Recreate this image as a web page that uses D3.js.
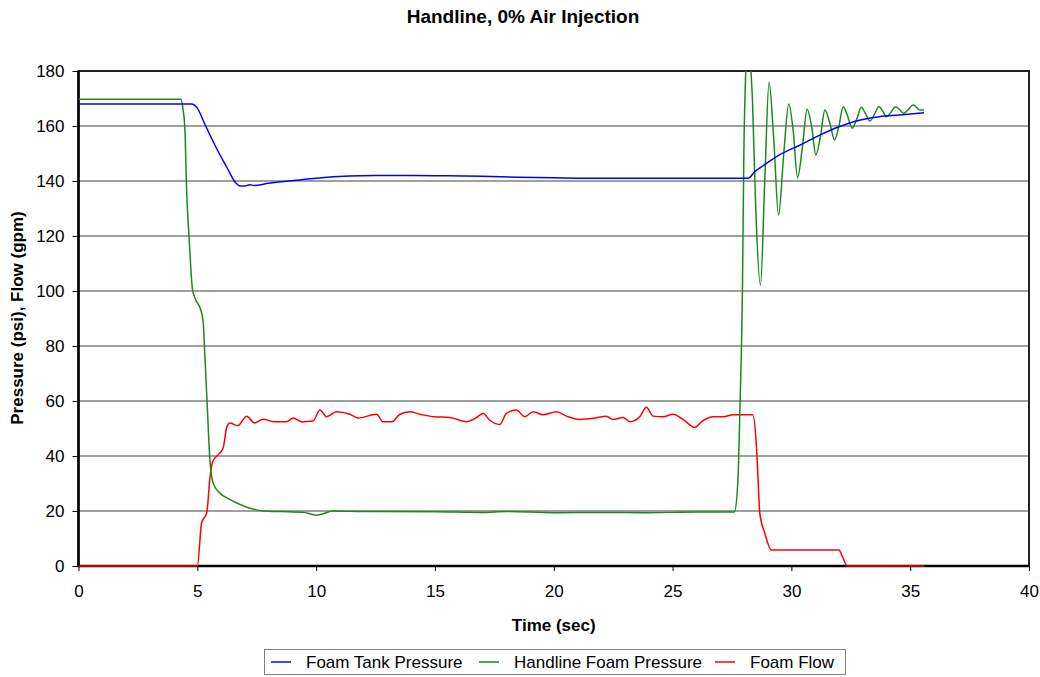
<!DOCTYPE html>
<html>
<head>
<meta charset="utf-8">
<script src="https://cdn.jsdelivr.net/npm/d3@7/dist/d3.min.js"></script>
<style>
	body { margin: 0; background: #fff; }
	text { font-family: 'Liberation Sans', Arial, sans-serif; fill: #000; }
	.grid line { stroke: #808080; stroke-width: 1.5; }
	.series { fill: none; stroke-width: 1.5; }
</style>
</head>
<body>
<div id="chart"><svg width="1040" height="677"></svg></div>
<script>

var WIDTH = 1040;
var HEIGHT = 677;

var PLOT = {left: 78.5, right: 1029, top: 71, bottom: 566};

var xTicks = [0, 5, 10, 15, 20, 25, 30, 35, 40];
var yTicks = [0, 20, 40, 60, 80, 100, 120, 140, 160, 180];

var seriesNames = ['Foam Tank Pressure', 'Handline Foam Pressure', 'Foam Flow'];
var seriesColors = ['#0000ff', '#1a8a1a', '#ff0000'];

// foam tank pressure (psi)
var tankTime = [0, 4.76, 5.0, 5.3, 5.8, 6.24, 6.6, 6.8, 7.0, 7.2, 7.4, 8, 9.3, 10, 11.4, 12.5, 14, 15.5, 17, 18.5, 20, 22, 25, 28.18, 28.46, 28.95, 29.5, 30.35, 31.2, 32, 32.9, 33.7, 34.55, 35.58];
var tankPsi = [168, 168, 166.5, 161, 152, 145, 139.5, 138.2, 138.2, 138.6, 138.4, 139.2, 140.4, 141, 141.8, 142, 142, 141.9, 141.7, 141.4, 141.2, 141, 141, 141, 143.4, 146.4, 149.5, 153, 156.7, 159.7, 162.2, 163.4, 164, 164.8];

// handline foam pressure (psi)
var handTime = [0, 4.31, 4.4, 4.48, 4.55, 4.66, 4.8, 4.94, 5.15, 5.25, 5.32, 5.42, 5.53, 5.67, 5.95, 6.3, 6.9, 7.3, 7.77, 8.5, 9.5, 10.0, 10.3, 10.7, 12, 15, 17, 18, 20, 22, 24, 26, 27.6,
	27.75, 27.83, 27.9, 27.94, 28.0, 28.08, 28.2, 28.3, 28.36, 28.5, 28.7, 28.88, 29.06, 29.26, 29.46, 29.68, 29.89, 30.08, 30.26, 30.46, 30.66, 30.85, 31.03, 31.22, 31.41, 31.62, 31.82,
	32.0, 32.18, 32.37, 32.56, 32.75, 32.94, 33.12, 33.3, 33.5, 33.68, 33.84, 34.0, 34.2, 34.38, 34.55, 34.73, 34.92, 35.12, 35.3, 35.4, 35.58];
var handPsi = [169.7, 169.7, 166, 158.5, 136.7, 118.5, 100.4, 96.7, 93, 88.4, 76.1, 57.9, 38.5, 30, 26.5, 24.5, 22, 20.8, 20, 19.8, 19.5, 18.5, 19, 20, 19.8, 19.7, 19.5, 19.8, 19.4, 19.5, 19.4, 19.6, 19.6,
	31, 55.6, 80, 100, 150, 180, 200, 180, 170, 130, 102.2, 140, 175.9, 155, 127.6, 150, 168, 158, 141.2, 152, 166.1, 160, 149.5, 156, 165.8, 161, 154.9,
	160, 167, 163.5, 159.2, 162.5, 166.8, 164.5, 161.8, 164.3, 167, 165.5, 163.4, 165.1, 167, 166, 164.6, 166, 167.6, 166.5, 165.8, 165.8];

// foam flow (gpm)
var flowTime = [0, 5.0, 5.18, 5.4, 5.53, 5.65, 5.88, 6.09, 6.24, 6.37, 6.7, 7.08, 7.4, 7.77, 8.2, 8.76, 9.03, 9.4, 9.87, 10.16, 10.44, 10.86, 11.42, 11.77, 12.55, 12.8, 13.2, 13.5, 13.94, 14.37, 14.93,
	15.63, 16.33, 16.75, 17.03, 17.31, 17.73, 18.01, 18.43, 18.78, 19.13, 19.55, 20.12, 20.54, 21.1, 21.66, 22.22, 22.5, 22.92, 23.2, 23.62, 23.9, 24.18, 24.6, 25.02, 25.44, 25.94,
	26.22, 26.71, 27.13, 27.55, 28.37, 28.53, 28.6, 28.67, 28.88, 29.16, 29.5, 32.0, 32.15, 32.35, 35.6];
var flowGpm = [0, 0, 15.6, 19.5, 32, 38, 40.5, 43, 50.5, 52, 51, 54.5, 52, 53.4, 52.5, 52.5, 53.8, 52.4, 52.7, 56.7, 54.3, 56.1, 55.2, 53.8, 55.2, 52.5, 52.5, 55, 56.1, 55.2, 54.3,
	54, 52.5, 54, 55.5, 53, 51.5, 55.5, 56.7, 54.3, 56.1, 55, 56.1, 54.5, 53.3, 53.7, 54.5, 53.3, 54, 52.5, 54.3, 57.7, 54.5, 54.3, 55.2, 53.3, 50.4,
	52.5, 54.3, 54.3, 55, 55, 43.4, 31.3, 19.2, 12, 5.8, 5.8, 5.8, 3.4, 0, 0];

function zipSeries(times, values) {
	return times.map(function(t, i) { return {t: t, v: values[i]}; });
}

function drawGrid(svg, x, y) {
	svg.append('g')
		.attr('class', 'grid')
		.selectAll('line')
		.data(yTicks.slice(1, -1))
		.enter().append('line')
		.attr('x1', PLOT.left)
		.attr('x2', PLOT.right)
		.attr('y1', function(d) { return y(d); })
		.attr('y2', function(d) { return y(d); });
}

function drawAxes(svg, x, y) {
	var xAxis = d3.axisBottom(x).tickValues(xTicks).tickSize(5).tickPadding(14);
	var yAxis = d3.axisLeft(y).tickValues(yTicks).tickSize(6).tickPadding(8);

	var gx = svg.append('g')
		.attr('transform', 'translate(0,' + PLOT.bottom + ')')
		.call(xAxis);
	var gy = svg.append('g')
		.attr('transform', 'translate(' + PLOT.left + ',0)')
		.call(yAxis);

	[gx, gy].forEach(function(g) {
		g.select('.domain').remove();
		g.selectAll('.tick line').attr('stroke', '#000').attr('stroke-width', 1);
		g.selectAll('.tick text').style('font-size', '17px').attr('fill', '#000');
	});

	// frame: thin on top/right, heavy on the axes
	svg.append('rect')
		.attr('x', PLOT.left)
		.attr('y', PLOT.top)
		.attr('width', PLOT.right - PLOT.left)
		.attr('height', PLOT.bottom - PLOT.top)
		.attr('fill', 'none')
		.attr('stroke', '#222')
		.attr('stroke-width', 2);

	svg.append('path')
		.attr('d', 'M' + PLOT.left + ',' + PLOT.top + ' V' + PLOT.bottom + ' H' + PLOT.right)
		.attr('fill', 'none')
		.attr('stroke', '#000')
		.attr('stroke-width', 2.5);
}

function drawSeries(svg, x, y) {
	// a little slack at the bottom so the zero-flow line shows on the axis
	svg.append('clipPath')
		.attr('id', 'plotclip')
		.append('rect')
		.attr('x', PLOT.left)
		.attr('y', PLOT.top)
		.attr('width', PLOT.right - PLOT.left)
		.attr('height', PLOT.bottom - PLOT.top + 2);

	var line = d3.line()
		.x(function(d) { return x(d.t); })
		.y(function(d) { return y(d.v); })
		.curve(d3.curveMonotoneX);

	var all = [zipSeries(tankTime, tankPsi), zipSeries(handTime, handPsi), zipSeries(flowTime, flowGpm)];

	var g = svg.append('g').attr('clip-path', 'url(#plotclip)');

	// draw flow first, then handline, then tank on top
	[2, 1, 0].forEach(function(i) {
		g.append('path')
			.attr('class', 'series')
			.attr('d', line(all[i]))
			.attr('stroke', seriesColors[i]);
	});
}

function drawLabels(svg) {
	svg.append('text')
		.attr('x', 523)
		.attr('y', 23)
		.attr('text-anchor', 'middle')
		.style('font-size', '19px')
		.style('font-weight', 'bold')
		.text('Handline, 0% Air Injection');

	svg.append('text')
		.attr('x', (PLOT.left + PLOT.right) / 2)
		.attr('y', 631)
		.attr('text-anchor', 'middle')
		.style('font-size', '17px')
		.style('font-weight', 'bold')
		.text('Time (sec)');

	svg.append('text')
		.attr('transform', 'translate(23,' + 318 + ') rotate(-90)')
		.attr('text-anchor', 'middle')
		.style('font-size', '17px')
		.style('font-weight', 'bold')
		.text('Pressure (psi), Flow (gpm)');
}

function drawLegend(svg) {
	var lg = svg.append('g');

	lg.append('rect')
		.attr('x', 264.5)
		.attr('y', 649.5)
		.attr('width', 581)
		.attr('height', 25)
		.attr('fill', '#fff')
		.attr('stroke', '#808080')
		.attr('stroke-width', 1);

	var lineX = [271, 479, 715];

	seriesNames.forEach(function(name, i) {
		lg.append('line')
			.attr('x1', lineX[i])
			.attr('x2', lineX[i] + 20)
			.attr('y1', 662)
			.attr('y2', 662)
			.attr('stroke', seriesColors[i])
			.attr('stroke-width', 1.5);
		lg.append('text')
			.attr('x', lineX[i] + 35)
			.attr('y', 668)
			.style('font-size', '17px')
			.text(name);
	});
}

function init() {
	var svg = d3.select('#chart').select('svg');

	var x = d3.scaleLinear().domain([0, 40]).range([PLOT.left, PLOT.right]);
	var y = d3.scaleLinear().domain([0, 180]).range([PLOT.bottom, PLOT.top]);

	drawGrid(svg, x, y);
	drawAxes(svg, x, y);
	drawSeries(svg, x, y);
	drawLabels(svg);
	drawLegend(svg);
}

init();

</script>
</body>
</html>
